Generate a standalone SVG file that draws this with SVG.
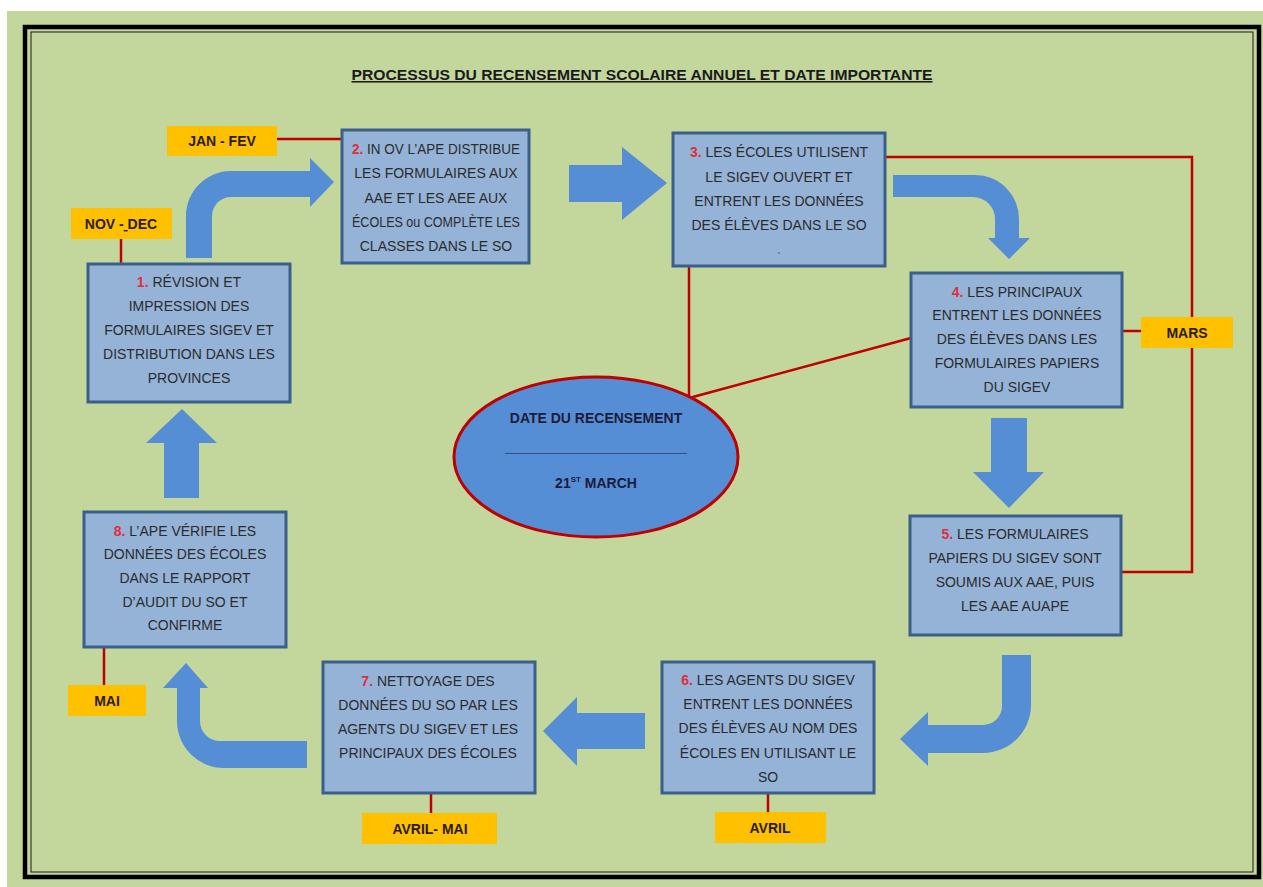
<svg xmlns="http://www.w3.org/2000/svg" width="1263" height="887" viewBox="0 0 1263 887">
<style>
.box{fill:#95B3D7;stroke:#3A5F8B;stroke-width:3}
.t{font-family:"Liberation Sans",Arial,sans-serif;font-size:14px;fill:#2b2b2b;text-anchor:middle}
.n{fill:#E02D3C;font-weight:bold}
.lab{fill:#FFC000}
.lt{font-family:"Liberation Sans",Arial,sans-serif;font-size:14px;font-weight:bold;fill:#2a1c0c;text-anchor:middle}
.red{stroke:#C00000;stroke-width:2.5;fill:none}
.arr{fill:#558ED5}
</style>
<rect x="0" y="0" width="1263" height="887" fill="#ffffff"/>
<rect x="7" y="11" width="1256" height="876" fill="#C3D69B"/>
<rect x="25" y="27" width="1234" height="850" fill="none" stroke="#000" stroke-width="4.5"/>
<rect x="31" y="32" width="1222" height="840" fill="none" stroke="#1a1a1a" stroke-width="1"/>

<g id="title">
<text x="642" y="80" class="lt" textLength="581" lengthAdjust="spacingAndGlyphs" text-decoration="underline" style="font-size:15.5px;fill:#1a1a1a">PROCESSUS DU RECENSEMENT SCOLAIRE ANNUEL ET DATE IMPORTANTE</text>
</g>

<g id="connectors">
<polyline class="red" points="277,139 343,139"/>
<polyline class="red" points="121,239 121,264"/>
<polyline class="red" points="885,157 1192,157 1192,572 1121,572"/>
<polyline class="red" points="1121,331 1141,331"/>
<polyline class="red" points="689,266 689,398 911,338"/>
<polyline class="red" points="768,793 768,812"/>
<polyline class="red" points="431,793 431,813"/>
<polyline class="red" points="104,647 104,685"/>
<path class="arr" d="M186,258 V216 A45,45 0 0 1 231,171 H310 V158 L334,182 L310,207 V197 H231 A19,19 0 0 0 212,216 V258 Z"/>
<path class="arr" d="M569,165 H622 V147 L667,183 L622,220 V202 H569 Z"/>
<path class="arr" d="M893,175 H975 A44,44 0 0 1 1019,219 V238 H1030 L1009,259 L988,238 H995 V219 A22,22 0 0 0 973,197 H893 Z"/>
<path class="arr" d="M991,418 H1027 V472 H1044 L1009,508 L973,472 H991 Z"/>
<path class="arr" d="M1002,655 H1031 V705 A48,48 0 0 1 983,753 H928 V766 L900,739 L928,712 V725 H983 A19,19 0 0 0 1002,706 Z"/>
<path class="arr" d="M645,713 V749 H577 V766 L543,731 L577,697 V713 Z"/>
<path class="arr" d="M307,741 H220 A20,20 0 0 1 200,721 V688 H208 L186,663 L163,688 H177 V721 A47,47 0 0 0 224,768 H307 Z"/>
<path class="arr" d="M164,498 V443 H146 L182,409 L217,443 H199 V498 Z"/>
</g>

<g id="node1">
<rect class="box" x="88" y="264" width="202" height="138"/>
<text class="t" x="189" y="287"><tspan class="n">1.</tspan> RÉVISION ET</text>
<text class="t" x="189" y="311">IMPRESSION DES</text>
<text class="t" x="189" y="335">FORMULAIRES SIGEV ET</text>
<text class="t" x="189" y="359">DISTRIBUTION DANS LES</text>
<text class="t" x="189" y="383">PROVINCES</text>
</g>

<g id="node2">
<rect class="box" x="342" y="130" width="187" height="133"/>
<text class="t" x="436" y="154" textLength="168" lengthAdjust="spacingAndGlyphs"><tspan class="n">2.</tspan> IN OV L’APE DISTRIBUE</text>
<text class="t" x="436" y="178">LES FORMULAIRES AUX</text>
<text class="t" x="436" y="203">AAE ET LES AEE AUX</text>
<text class="t" x="436" y="227" textLength="168" lengthAdjust="spacingAndGlyphs">ÉCOLES ou COMPLÈTE LES</text>
<text class="t" x="436" y="251">CLASSES DANS LE SO</text>
</g>

<g id="node3">
<rect class="box" x="673" y="133" width="212" height="133"/>
<text class="t" x="779" y="157"><tspan class="n">3.</tspan> LES ÉCOLES UTILISENT</text>
<text class="t" x="779" y="182">LE SIGEV OUVERT ET</text>
<text class="t" x="779" y="206">ENTRENT LES DONNÉES</text>
<text class="t" x="779" y="230">DES ÉLÈVES DANS LE SO</text>
<text class="t" x="779" y="261" style="font-size:10px">`</text>
</g>

<g id="node4">
<rect class="box" x="911" y="273" width="211" height="134"/>
<text class="t" x="1017" y="297"><tspan class="n">4.</tspan> LES PRINCIPAUX</text>
<text class="t" x="1017" y="320">ENTRENT LES DONNÉES</text>
<text class="t" x="1017" y="344">DES ÉLÈVES DANS LES</text>
<text class="t" x="1017" y="368">FORMULAIRES PAPIERS</text>
<text class="t" x="1017" y="392">DU SIGEV</text>
</g>

<g id="node5">
<rect class="box" x="910" y="516" width="211" height="119"/>
<text class="t" x="1015" y="539"><tspan class="n">5.</tspan> LES FORMULAIRES</text>
<text class="t" x="1015" y="563">PAPIERS DU SIGEV SONT</text>
<text class="t" x="1015" y="587">SOUMIS AUX AAE, PUIS</text>
<text class="t" x="1015" y="611">LES AAE AUAPE</text>
</g>

<g id="node6">
<rect class="box" x="662" y="662" width="212" height="131"/>
<text class="t" x="768" y="685"><tspan class="n">6.</tspan> LES AGENTS DU SIGEV</text>
<text class="t" x="768" y="709">ENTRENT LES DONNÉES</text>
<text class="t" x="768" y="733">DES ÉLÈVES AU NOM DES</text>
<text class="t" x="768" y="758">ÉCOLES EN UTILISANT LE</text>
<text class="t" x="768" y="782">SO</text>
</g>

<g id="node7">
<rect class="box" x="323" y="662" width="212" height="131"/>
<text class="t" x="428" y="686"><tspan class="n">7.</tspan> NETTOYAGE DES</text>
<text class="t" x="428" y="710">DONNÉES DU SO PAR LES</text>
<text class="t" x="428" y="734">AGENTS DU SIGEV ET LES</text>
<text class="t" x="428" y="758">PRINCIPAUX DES ÉCOLES</text>
</g>

<g id="node8">
<rect class="box" x="84" y="512" width="202" height="135"/>
<text class="t" x="185" y="536"><tspan class="n">8.</tspan> L’APE VÉRIFIE LES</text>
<text class="t" x="185" y="559">DONNÉES DES ÉCOLES</text>
<text class="t" x="185" y="583">DANS LE RAPPORT</text>
<text class="t" x="185" y="607">D’AUDIT DU SO ET</text>
<text class="t" x="185" y="630">CONFIRME</text>
</g>

<g id="census-date">
<ellipse cx="596" cy="457" rx="142" ry="80" fill="#558ED5" stroke="#C00000" stroke-width="3"/>
<text class="lt" x="596" y="423" style="font-size:14px;fill:#1c1c3a">DATE DU RECENSEMENT</text>
<text class="lt" x="596" y="452" textLength="182" lengthAdjust="spacingAndGlyphs" style="font-size:16px;fill:#1c1c3a">_______________________</text>
<text class="lt" x="596" y="488" style="font-size:14px;fill:#1c1c3a">21<tspan dy="-6" style="font-size:8px">ST</tspan><tspan dy="6"> MARCH</tspan></text>
</g>

<g id="label-janfev">
<rect class="lab" x="167" y="126" width="110" height="30"/>
<text class="lt" x="222" y="146">JAN - FEV</text>
</g>
<g id="label-novdec">
<rect class="lab" x="71" y="208" width="101" height="31"/>
<text class="lt" x="121" y="229">NOV -<tspan text-decoration="underline"> </tspan>DEC</text>
</g>
<g id="label-mars">
<rect class="lab" x="1141" y="317" width="92" height="31"/>
<text class="lt" x="1187" y="338">MARS</text>
</g>
<g id="label-avril">
<rect class="lab" x="715" y="812" width="111" height="31"/>
<text class="lt" x="770" y="833">AVRIL</text>
</g>
<g id="label-avrilmai">
<rect class="lab" x="362" y="813" width="135" height="31"/>
<text class="lt" x="430" y="834">AVRIL- MAI</text>
</g>
<g id="label-mai">
<rect class="lab" x="68" y="685" width="78" height="31"/>
<text class="lt" x="107" y="706">MAI</text>
</g>
</svg>
